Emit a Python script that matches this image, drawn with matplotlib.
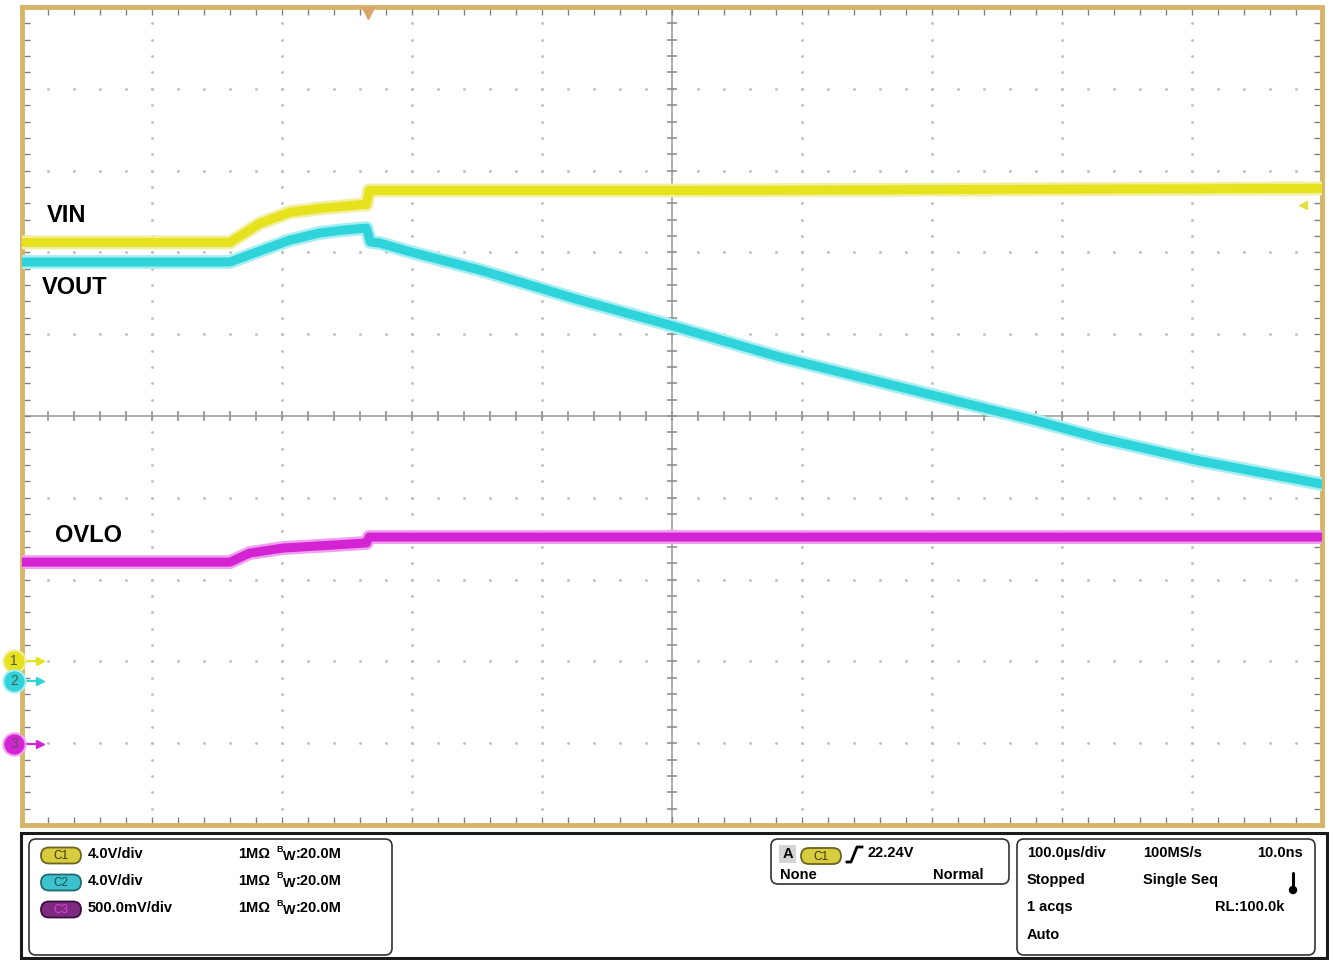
import matplotlib
matplotlib.use('Agg')
import matplotlib.pyplot as plt
from matplotlib.patches import FancyBboxPatch, Rectangle, Circle
import numpy as np

plt.rcParams['font.family'] = ['Liberation Sans', 'DejaVu Sans']

# time in us from left edge of screen (100 us/div), values in volts
t_vin = [0, 160, 183, 206, 229, 262, 265, 267, 522, 752, 1000]
vin = [20.49, 20.49, 21.42, 21.96, 22.15, 22.34, 22.34, 23.03, 23.03, 23.08, 23.13]

t_vout = [0, 160, 183, 206, 229, 247, 265, 268, 275, 299, 352, 429, 498, 583, 660, 737,
          778, 829, 906, 1000]
vout = [20.49, 20.49, 21.03, 21.56, 21.91, 22.05, 22.15, 21.47, 21.42, 20.98, 20.10, 18.63,
        17.41, 15.84, 14.62, 13.40, 12.76, 11.88, 10.76, 9.63]

t_ovlo = [0, 160, 175, 201, 239, 265, 267, 1000]
ovlo = [1.112, 1.112, 1.167, 1.198, 1.216, 1.229, 1.265, 1.265]

labels = ['VIN', 'VOUT', 'OVLO']
volts_div = [4.0, 4.0, 0.5]
ch_text = ['4.0V/div', '4.0V/div', '500.0mV/div']

# display settings
ground = [-3.0, -3.24, -4.01]          # ground marker position, divisions
colors = ['#E6E21E', '#2FD3DA', '#D323D3']
halo = ['#F2F0A0', '#A8EEF2', '#EFA0EF']

fig = plt.figure(figsize=(13.33, 9.6), dpi=100)
W, H = 1333, 960
ax = fig.add_axes([22 / W, (H - 825) / H, 1300 / W, 818 / H])
ax.set_xlim(0, 1000)
ax.set_ylim(-5, 5)

for s in ax.spines.values():
    s.set_color('#D8B468')
    s.set_linewidth(3.5)

ax.set_xticks(np.arange(0, 1001, 100))
ax.set_yticks(np.arange(-5, 5.01, 1))
ax.set_xticks(np.arange(0, 1001, 20), minor=True)
ax.set_yticks(np.arange(-5, 5.01, 0.2), minor=True)
ax.tick_params(which='both', direction='in', top=True, right=True,
               labelbottom=False, labelleft=False, length=5.5, width=1,
               color='#808080')

# dotted graticule
minor_x = np.arange(0, 1001, 20)
minor_y = np.arange(-5, 5.01, 0.2)
for gx in range(100, 1000, 100):
    if gx == 500:
        continue
    ax.plot(np.full_like(minor_y, gx), minor_y, ls='none', marker='.',
            ms=2, color='#BDBDBD', zorder=1)
for gy in range(-4, 5):
    if gy == 0:
        continue
    ax.plot(minor_x, np.full_like(minor_x, gy, dtype=float), ls='none',
            marker='.', ms=2, color='#BDBDBD', zorder=1)

# center cross with ticks
ax.axhline(0, color='#A0A0A0', lw=1.2, zorder=1)
ax.axvline(500, color='#A0A0A0', lw=1.2, zorder=1)
ax.plot(minor_x, np.zeros_like(minor_x), ls='none', marker='|', ms=7,
        mew=1.2, color='#909090', zorder=1)
ax.plot(np.full_like(minor_y, 500), minor_y, ls='none', marker='_', ms=7,
        mew=1.2, color='#909090', zorder=1)

# traces
series = [(t_vin, vin), (t_vout, vout), (t_ovlo, ovlo)]
for i, (t, v) in enumerate(series):
    y = np.array(v) / volts_div[i] + ground[i]
    ax.plot(t, y, color=halo[i], lw=10, solid_joinstyle='round', zorder=3)
    ax.plot(t, y, color=colors[i], lw=6.5, solid_joinstyle='round', zorder=4)

# trigger position and level markers
ax.plot(266, 4.93, marker='v', ms=9, color='#D9A46A', clip_on=False, zorder=6)
ax.plot(985, 2.58, marker='<', ms=6, color='#E2E040', zorder=6)

# ground markers
for i in range(3):
    ax.plot([4, 13], [ground[i], ground[i]], color=colors[i], lw=1.5,
            clip_on=False, zorder=7)
    ax.plot(14, ground[i], marker='>', ms=6, color=colors[i], clip_on=False, zorder=7)
    ax.plot(-6.2, ground[i], marker='o', ms=16, mfc=colors[i], mec=halo[i],
            mew=1.5, clip_on=False, zorder=8)
    ax.text(-6.2, ground[i], str(i + 1), ha='center', va='center', fontsize=10,
            color='#555555', zorder=9, clip_on=False)

# overlay in pixel coordinates for labels and the status panel
ov = fig.add_axes([0, 0, 1, 1])
ov.set_xlim(0, W)
ov.set_ylim(H, 0)
ov.axis('off')

lab_pos = [(47, 216), (42, 288), (55, 536)]
for (lx, ly), name in zip(lab_pos, labels):
    ov.text(lx, ly, name, fontsize=17, fontweight='bold', va='center',
            ha='left', color='black')

ov.add_patch(Rectangle((21, 833), 1306, 125, fill=False, ec='#1A1A1A', lw=2.2))

def rbox(x, y, w, h):
    ov.add_patch(FancyBboxPatch((x, y), w, h,
                                boxstyle='round,pad=0,rounding_size=7',
                                fc='white', ec='#333333', lw=1.2))

rbox(29, 839, 363, 116)
rbox(771, 839, 238, 45)
rbox(1017, 839, 298, 116)

badge_fc = ['#D8CD3E', '#3EC3CE', '#7E2A80']
badge_ec = ['#6C6420', '#1E6A72', '#3E0E40']
badge_tc = ['#3A360C', '#154F55', '#E040E0']

def badge(cx, cy, i):
    ov.add_patch(FancyBboxPatch((cx - 20, cy - 8), 40, 16,
                                boxstyle='round,pad=0,rounding_size=8',
                                fc=badge_fc[i], ec=badge_ec[i], lw=1.3))
    ov.text(cx, cy + 0.5, 'C%d' % (i + 1), fontsize=8.5, ha='center',
            va='center', color=badge_tc[i])

fs = 10.5
rows = [854, 881, 908]
for i, ry in enumerate(rows):
    badge(61, ry + 1.5, i)
    ov.text(88, ry, ch_text[i], fontsize=fs, fontweight='bold', va='center')
    ov.text(238, ry, '1M\u03a9', fontsize=fs, fontweight='bold', va='center')
    ov.text(276, ry - 5, 'B', fontsize=6.5, fontweight='bold', va='center')
    ov.text(283, ry + 3, 'W', fontsize=fs - 1, fontweight='bold', va='center')
    ov.text(296, ry, ':20.0M', fontsize=fs, fontweight='bold', va='center')

# trigger box
ov.add_patch(Rectangle((779, 845), 17, 18, fc='#D4D4D4', ec='none'))
ov.text(787.5, 854, 'A', fontsize=fs, fontweight='bold', ha='center', va='center')
badge(821, 856, 0)
ov.plot([847, 851, 857, 862], [862, 862, 847, 847], color='black', lw=2)
ov.text(867, 853, '22.24V', fontsize=fs, fontweight='bold', va='center')
ov.text(780, 875, 'None', fontsize=fs, fontweight='bold', va='center')
ov.text(984, 875, 'Normal', fontsize=fs, fontweight='bold', va='center', ha='right')

# acquisition box
ov.text(1027, 853, '100.0\u00b5s/div', fontsize=fs, fontweight='bold', va='center')
ov.text(1143, 853, '100MS/s', fontsize=fs, fontweight='bold', va='center')
ov.text(1303, 853, '10.0ns', fontsize=fs, fontweight='bold', va='center', ha='right')
ov.text(1027, 880, 'Stopped', fontsize=fs, fontweight='bold', va='center')
ov.text(1143, 880, 'Single Seq', fontsize=fs, fontweight='bold', va='center')
ov.text(1027, 907, '1 acqs', fontsize=fs, fontweight='bold', va='center')
ov.text(1284, 907, 'RL:100.0k', fontsize=fs, fontweight='bold', va='center', ha='right')
ov.text(1027, 935, 'Auto', fontsize=fs, fontweight='bold', va='center')
ov.plot([1293, 1293], [873, 888], color='black', lw=2.2, solid_capstyle='round')
ov.add_patch(Circle((1293, 890), 3.5, color='black'))

fig.savefig('out.png', dpi=100, facecolor='white')
